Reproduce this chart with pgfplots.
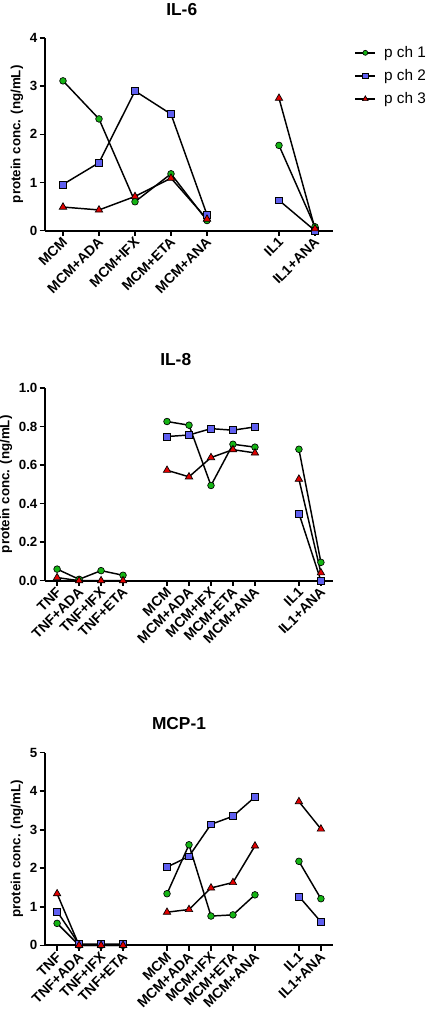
\documentclass[border=0pt]{standalone}
\usepackage{pgfplots}
\pgfplotsset{compat=1.18}
\usepackage{fontspec}
\setmainfont{Liberation Sans}
\definecolor{pgreen}{RGB}{20,180,20}
\definecolor{pblue}{RGB}{95,95,240}
\definecolor{pred}{RGB}{225,0,0}
\pgfplotsset{
  prism/.style={
    scale only axis, width=216pt, height=144.5pt,
    axis x line*=bottom, axis y line*=left,
    axis line style={line width=1.4pt,-},
    tick align=outside, major tick length=4pt,
    every tick/.style={line width=1.2pt,black},
    clip=false, ymin=0,
    unbounded coords=jump,
    /pgf/number format/assume math mode=true,
    yticklabel style={font=\bfseries\fontsize{10}{12}\selectfont, inner sep=1.5pt},
    xticklabel style={font=\bfseries\fontsize{10.5}{12}\selectfont, rotate=45, anchor=east, inner sep=1pt, yshift=-3pt},
    ylabel={protein conc. (ng/mL)},
    ylabel style={font=\bfseries\fontsize{10}{12}\selectfont},
  },
  g/.style={black, line width=1.1pt, mark=*, mark size=2.5pt, mark options={fill=pgreen, line width=0.5pt, solid}},
  b/.style={black, line width=1.1pt, mark=square*, mark size=2.6pt, mark options={fill=pblue, line width=0.5pt, solid}},
  r/.style={black, line width=1.1pt, mark=triangle*, mark size=3.2pt, mark options={fill=pred, line width=0.5pt, solid}},
}
\begin{document}
\begin{tikzpicture}
% ---------------- IL-6 ----------------
\begin{axis}[prism, at={(33.75pt,592pt)}, anchor=south west,
  xmin=-0.5, xmax=7.5, ymax=4, ytick={0,1,2,3,4},
  xtick={0,1,2,3,4,6,7},
  xticklabels={MCM,MCM+ADA,MCM+IFX,MCM+ETA,MCM+ANA,IL1,IL1+ANA},
  legend style={at={(rel axis cs:1,1)}, anchor=north west, xshift=14pt, yshift=-2pt, draw=none, fill=none,
    font=\fontsize{11.5}{13}\selectfont, row sep=3.5pt, column sep=4pt, inner sep=2pt},
  legend cell align=left,
  legend image code/.code={\draw[mark repeat=2,mark phase=2,/tikz/every mark/.append style={scale=0.75}] plot coordinates {(0pt,0pt)(7.5pt,0pt)(15pt,0pt)};},
]
\addplot[g] coordinates {(0,3.11)(1,2.32)(2,0.60)(3,1.18)(4,0.21)(5,nan)(6,1.77)(7,0.08)};
\addplot[b] coordinates {(0,0.96)(1,1.41)(2,2.90)(3,2.42)(4,0.33)(5,nan)(6,0.63)(7,0.0)};
\addplot[r] coordinates {(0,0.49)(1,0.43)(2,0.71)(3,1.09)(4,0.24)(5,nan)(6,2.75)(7,0.04)};
\legend{p ch 1, p ch 2, p ch 3}
\end{axis}
% ---------------- IL-8 ----------------
\begin{axis}[prism, at={(33.75pt,329.5pt)}, anchor=south west,
  xmin=-0.55, xmax=12.55, ymax=1, ytick={0,0.2,0.4,0.6,0.8,1.0},
  yticklabel style={/pgf/number format/.cd, fixed, fixed zerofill, precision=1},
  xtick={0,1,2,3,5,6,7,8,9,11,12},
  xticklabels={TNF,TNF+ADA,TNF+IFX,TNF+ETA,MCM,MCM+ADA,MCM+IFX,MCM+ETA,MCM+ANA,IL1,IL1+ANA},
]
\addplot[g] coordinates {(0,0.060)(1,0.007)(2,0.052)(3,0.028)(4,nan)(5,0.826)(6,0.807)(7,0.494)(8,0.708)(9,0.693)(10,nan)(11,0.682)(12,0.095)};
\addplot[b] coordinates {(5,0.748)(6,0.756)(7,0.789)(8,0.781)(9,0.798)(10,nan)(11,0.349)(12,0.0)};
\addplot[r] coordinates {(0,0.016)(1,0.0)(2,0.0)(3,0.0)(4,nan)(5,0.573)(6,0.539)(7,0.639)(8,0.680)(9,0.663)(10,nan)(11,0.527)(12,0.041)};
\end{axis}
% ---------------- MCP-1 ----------------
\begin{axis}[prism, at={(33.75pt,56pt)}, anchor=south west,
  xmin=-0.55, xmax=12.55, ymax=5, ytick={0,1,2,3,4,5},
  xtick={0,1,2,3,5,6,7,8,9,11,12},
  xticklabels={TNF,TNF+ADA,TNF+IFX,TNF+ETA,MCM,MCM+ADA,MCM+IFX,MCM+ETA,MCM+ANA,IL1,IL1+ANA},
]
\addplot[g] coordinates {(0,0.57)(1,0.0)(2,0.0)(3,0.0)(4,nan)(5,1.34)(6,2.61)(7,0.76)(8,0.79)(9,1.31)(10,nan)(11,2.18)(12,1.21)};
\addplot[b] coordinates {(0,0.88)(1,0.03)(2,0.03)(3,0.03)(4,nan)(5,2.03)(6,2.31)(7,3.14)(8,3.35)(9,3.85)(10,nan)(11,1.27)(12,0.61)};
\addplot[r] coordinates {(0,1.34)(1,0.0)(2,0.0)(3,0.0)(4,nan)(5,0.86)(6,0.93)(7,1.49)(8,1.63)(9,2.58)(10,nan)(11,3.73)(12,3.02)};
\end{axis}
\node[font=\bfseries\fontsize{13}{15}\selectfont] at (136.3pt,757.5pt) {IL-6};
\node[font=\bfseries\fontsize{13}{15}\selectfont] at (131.8pt,495pt) {IL-8};
\node[font=\bfseries\fontsize{13}{15}\selectfont] at (134.25pt,222.5pt) {MCP-1};
\pgfresetboundingbox
\path[use as bounding box] (0,0) rectangle (321.75pt,765pt);
\end{tikzpicture}
\end{document}
